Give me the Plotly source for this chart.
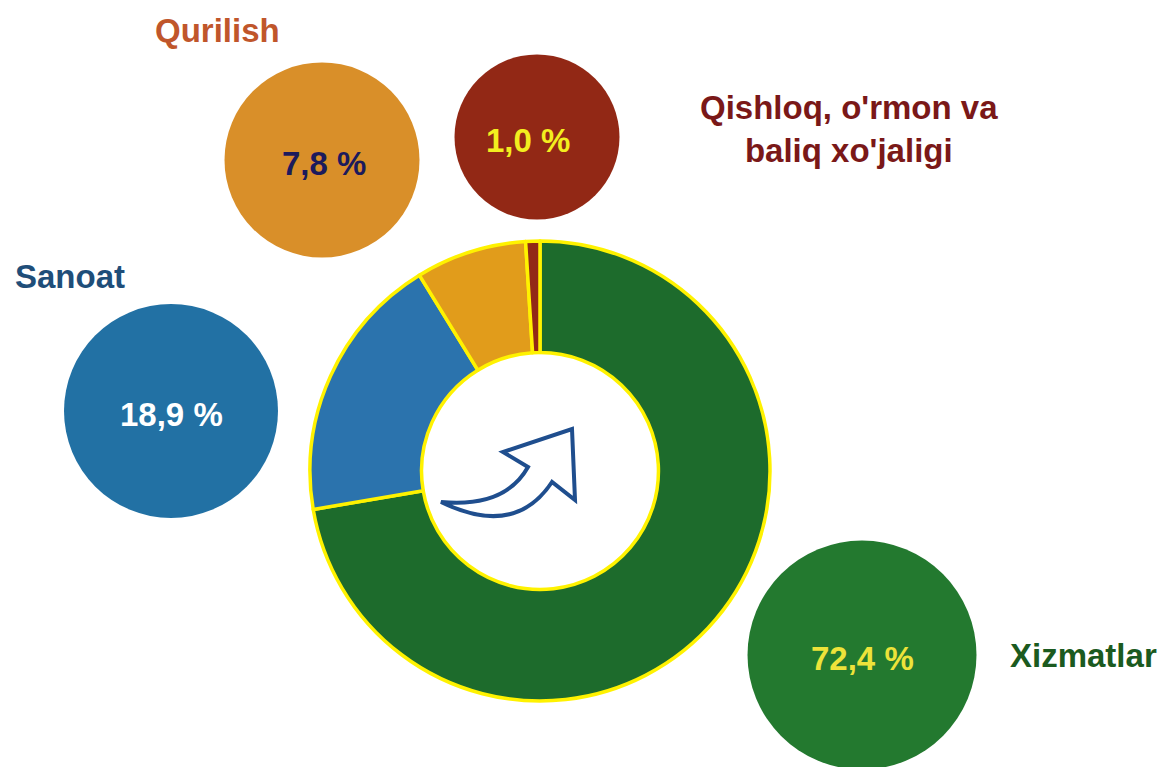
import plotly.graph_objects as go

# ---- data ----
sectors = ["Xizmatlar", "Sanoat", "Qurilish", "Qishloq, o'rmon va<br>baliq xo'jaligi"]
shares = [72.4, 18.9, 7.8, 1.0]
slice_colors = ["#1D6B2C", "#2B73AD", "#E19C1B", "#922817"]
bubble_colors = ["#23792F", "#2271A4", "#D98F29", "#922815"]
value_colors = ["#EDE33A", "#FFFFFF", "#1C1A5C", "#F3EE1F"]
label_colors = ["#1B5A20", "#1F4E79", "#C0562B", "#7A1818"]

# bubble layout (pixel space) - decorative
bub_x = [862, 171, 322, 537]
bub_y = [655, 411, 160, 137]
bub_d = [229, 214, 195, 165]
val_dx = [0, 0, 2, -9]
lab_x = [1083, 70, 217, 849]
lab_y = [655, 276, 30, 129]

W, H = 1162, 767
FONT = "Liberation Sans, Arial, sans-serif"

fig = go.Figure()

# donut
cx, cy, r = 540, 471, 230
fig.add_trace(go.Pie(
    labels=sectors, values=shares, sort=False, direction="clockwise", rotation=0,
    hole=0.515, textinfo="none", showlegend=False,
    marker=dict(colors=slice_colors, line=dict(color="#FFF200", width=3.5)),
    domain=dict(x=[(cx - r) / W, (cx + r) / W], y=[(H - cy - r) / H, (H - cy + r) / H]),
))

# bubbles
fig.add_trace(go.Scatter(
    x=bub_x, y=bub_y, mode="markers",
    marker=dict(size=bub_d, color=bubble_colors, line=dict(width=0), opacity=1),
    showlegend=False, hoverinfo="skip", cliponaxis=False,
))

# values inside bubbles
val_text = [f"{v:.1f}".replace(".", ",") + " %" for v in shares]
for t, x, y, dx, c in zip(val_text, bub_x, bub_y, val_dx, value_colors):
    fig.add_annotation(x=x, y=y, xref="x", yref="y", text=t, showarrow=False,
                       xshift=dx, yshift=-3,
                       font=dict(family=FONT, size=33, color=c, weight="bold"),
                       xanchor="center", yanchor="middle")

# category labels
for name, x, y, c in zip(sectors, lab_x, lab_y, label_colors):
    fig.add_annotation(x=x, y=y, xref="x", yref="y", text=name, showarrow=False,
                       font=dict(family=FONT, size=33, color=c, weight="bold"),
                       xanchor="center", yanchor="middle", align="center")

# decorative arrow in the hole
fig.add_shape(type="path", xref="x", yref="y", layer="above",
              path="M 441 502 Q 505 508 528 467 L 503 452 L 572 429 L 575 500 L 552 482 Q 515 538 441 502 Z",
              line=dict(color="#1F4E8E", width=4), fillcolor="white")

fig.update_layout(
    width=W, height=H, margin=dict(l=0, r=0, t=0, b=0),
    paper_bgcolor="white", plot_bgcolor="white",
    xaxis=dict(range=[0, W], visible=False, fixedrange=True),
    yaxis=dict(range=[H, 0], visible=False, fixedrange=True),
)

fig.write_html("out.html", config={"displayModeBar": False},
               post_script="document.body.style.margin='0';document.body.style.overflow='hidden';")
